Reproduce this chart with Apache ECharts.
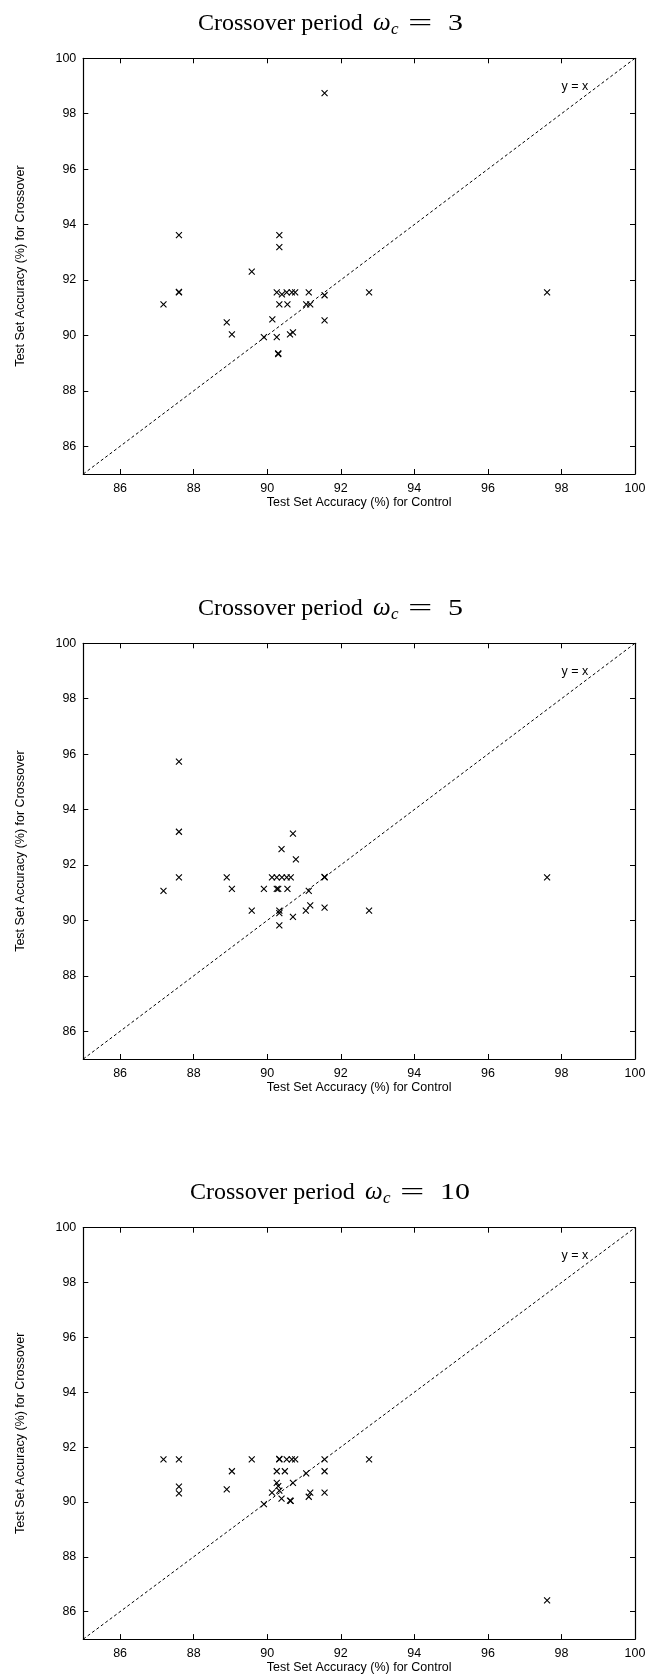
<!DOCTYPE html>
<html>
<head>
<meta charset="utf-8">
<script src="https://cdn.jsdelivr.net/npm/echarts@6/dist/echarts.min.js"></script>
<style>
html,body{margin:0;padding:0;background:#fff;}
#c{width:656px;height:1675px;}
</style>
</head>
<body>
<div id="c"></div>
<script>
// ---- data ----
const periods = ['3', '5', '10'];
const xTicks = [86, 88, 90, 92, 94, 96, 98, 100];
const yTicks = [86, 88, 90, 92, 94, 96, 98, 100];
const diagonal = [85, 100];

const control3 = [87.60, 90.33, 90.33, 89.58, 87.60, 87.60, 87.18, 90.26, 90.40, 90.53, 90.67, 90.76, 91.13, 91.56, 92.77, 90.33, 90.55, 91.06, 91.17, 90.14, 88.90, 89.04, 89.91, 90.26, 90.62, 90.70, 91.56, 90.30, 90.30, 91.56, 97.61];
const crossover3 = [93.62, 93.62, 93.19, 92.30, 91.55, 91.57, 91.12, 91.55, 91.48, 91.55, 91.55, 91.55, 91.55, 91.45, 91.55, 91.12, 91.12, 91.12, 91.12, 90.58, 90.47, 90.04, 89.94, 89.94, 90.04, 90.11, 90.54, 89.33, 89.35, 98.74, 91.55];

const control5 = [87.60, 87.60, 87.60, 87.18, 88.90, 89.04, 89.58, 89.91, 90.26, 90.30, 90.55, 90.13, 90.26, 90.40, 90.53, 90.64, 90.39, 90.70, 90.78, 90.33, 90.33, 90.33, 90.70, 91.05, 91.13, 91.17, 91.56, 91.56, 91.56, 92.77, 97.61];
const crossover5 = [95.73, 93.20, 91.55, 91.07, 91.55, 91.14, 90.35, 91.14, 91.14, 91.14, 91.14, 91.55, 91.55, 91.55, 91.55, 91.55, 92.57, 93.13, 92.20, 90.35, 90.26, 89.82, 90.13, 90.35, 91.07, 90.54, 91.55, 91.57, 90.46, 90.35, 91.55];

const control10 = [87.18, 87.60, 87.60, 87.60, 88.90, 89.04, 89.58, 90.33, 90.33, 90.53, 90.67, 90.76, 90.26, 90.48, 89.91, 90.13, 90.26, 90.30, 90.33, 90.39, 90.62, 90.64, 90.70, 91.06, 91.13, 91.17, 91.56, 91.56, 91.56, 92.77, 97.61];
const crossover10 = [91.55, 91.55, 90.56, 90.31, 90.46, 91.12, 91.55, 91.55, 91.57, 91.55, 91.55, 91.55, 91.12, 91.12, 89.92, 90.34, 90.70, 90.58, 90.41, 90.12, 90.05, 90.04, 90.70, 91.04, 90.19, 90.34, 91.55, 91.12, 90.34, 91.55, 86.41];

const titleText = 'Crossover period';
const omega = 'ω';
const omegaSub = 'c';
const xName = 'Test Set Accuracy (%) for Control';
const yName = 'Test Set Accuracy (%) for Crossover';
const keyText = 'y = x';
const keyPos = [98.73, 98.97];

const controls = [control3, control5, control10];
const crossovers = [crossover3, crossover5, crossover10];

// ---- layout ----
const gridTops = [58.3, 643.3, 1227.7];
const titleStartX = [198, 198, 190];
const gridH = 415.7;
const gridLeft = 83.3;
const gridRight = 21;

const sans = 'Liberation Sans, Arial, Helvetica, sans-serif';
const serifCss = '"Liberation Serif", "Times New Roman", serif';
const fs = 12.5;

const chart = echarts.init(document.getElementById('c'), null, {renderer: 'canvas'});

const grids = [], xAxes = [], yAxes = [], series = [], graphics = [];
const axisLineStyle = {color: '#000', width: 1.2};

function txt(x, y, text, font, scaleX) {
  return {
    type: 'text', x: x, y: y, scaleX: scaleX || 1, silent: true,
    style: {text: text, font: font, fill: '#000',
      textAlign: 'left', textVerticalAlign: 'middle', align: 'left', verticalAlign: 'middle'}
  };
}

for (let i = 0; i < 3; i++) {
  grids.push({left: gridLeft, right: gridRight, top: gridTops[i], height: gridH, containLabel: false});

  // title: "Crossover period ω_c = N"
  const x0 = titleStartX[i];
  const cy = gridTops[i] - 35;
  graphics.push(txt(x0, cy, titleText, '24px ' + serifCss));
  graphics.push(txt(x0 + 175, cy, omega, 'italic 25px ' + serifCss));
  graphics.push(txt(x0 + 193, cy + 6, omegaSub, 'italic 17px ' + serifCss));
  graphics.push(txt(x0 + 210, cy, '=', '24px ' + serifCss, 1.8));
  graphics.push(txt(x0 + 250, cy, periods[i], '24px ' + serifCss, 1.25));

  // bottom x
  xAxes.push({
    type: 'value', gridIndex: i, position: 'bottom', min: diagonal[0], max: diagonal[1],
    name: xName, nameLocation: 'middle', nameGap: 19,
    nameTextStyle: {fontFamily: sans, fontSize: fs, color: '#000'},
    axisLine: {show: true, onZero: false, lineStyle: axisLineStyle},
    axisTick: {show: true, inside: true, length: 5, customValues: xTicks, lineStyle: {color: '#000', width: 1}},
    axisLabel: {show: true, customValues: xTicks, fontFamily: sans, fontSize: fs, color: '#000', margin: 8},
    splitLine: {show: false}
  });
  // top x (mirror ticks)
  xAxes.push({
    type: 'value', gridIndex: i, position: 'top', min: diagonal[0], max: diagonal[1],
    axisLine: {show: true, onZero: false, lineStyle: axisLineStyle},
    axisTick: {show: true, inside: true, length: 5, customValues: xTicks, lineStyle: {color: '#000', width: 1}},
    axisLabel: {show: false},
    splitLine: {show: false}
  });
  // left y
  yAxes.push({
    type: 'value', gridIndex: i, position: 'left', min: diagonal[0], max: diagonal[1],
    name: yName, nameLocation: 'middle', nameGap: 56,
    nameTextStyle: {fontFamily: sans, fontSize: fs, color: '#000'},
    axisLine: {show: true, onZero: false, lineStyle: axisLineStyle},
    axisTick: {show: true, inside: true, length: 5, customValues: yTicks, lineStyle: {color: '#000', width: 1}},
    axisLabel: {show: true, customValues: yTicks, fontFamily: sans, fontSize: fs, color: '#000', margin: 7},
    splitLine: {show: false}
  });
  // right y (mirror ticks)
  yAxes.push({
    type: 'value', gridIndex: i, position: 'right', min: diagonal[0], max: diagonal[1],
    axisLine: {show: true, onZero: false, lineStyle: axisLineStyle},
    axisTick: {show: true, inside: true, length: 5, customValues: yTicks, lineStyle: {color: '#000', width: 1}},
    axisLabel: {show: false},
    splitLine: {show: false}
  });

  // diagonal y = x
  series.push({
    type: 'line', xAxisIndex: 2 * i, yAxisIndex: 2 * i,
    data: [[diagonal[0], diagonal[0]], [diagonal[1], diagonal[1]]],
    showSymbol: false, symbol: 'none', silent: true,
    lineStyle: {color: '#000', width: 1, type: [3, 2.5]},
    markPoint: {
      symbol: 'circle', symbolSize: 0.01, silent: true,
      itemStyle: {color: 'rgba(0,0,0,0)'},
      label: {show: true, position: 'left', distance: 0, formatter: keyText,
        fontFamily: sans, fontSize: fs, color: '#000'},
      data: [{coord: keyPos}]
    },
    animation: false
  });

  // points
  const pts = controls[i].map((v, k) => [v, crossovers[i][k]]);
  series.push({
    type: 'scatter', xAxisIndex: 2 * i, yAxisIndex: 2 * i,
    data: pts,
    symbol: 'path://M0,0L10,10M10,0L0,10',
    symbolSize: 6,
    itemStyle: {color: 'rgba(0,0,0,0)', borderColor: '#000', borderWidth: 1.1, opacity: 1},
    emphasis: {disabled: true},
    animation: false
  });
}

chart.setOption({
  animation: false,
  backgroundColor: '#fff',
  graphic: graphics,
  grid: grids,
  xAxis: xAxes,
  yAxis: yAxes,
  series: series
});
</script>
</body>
</html>
